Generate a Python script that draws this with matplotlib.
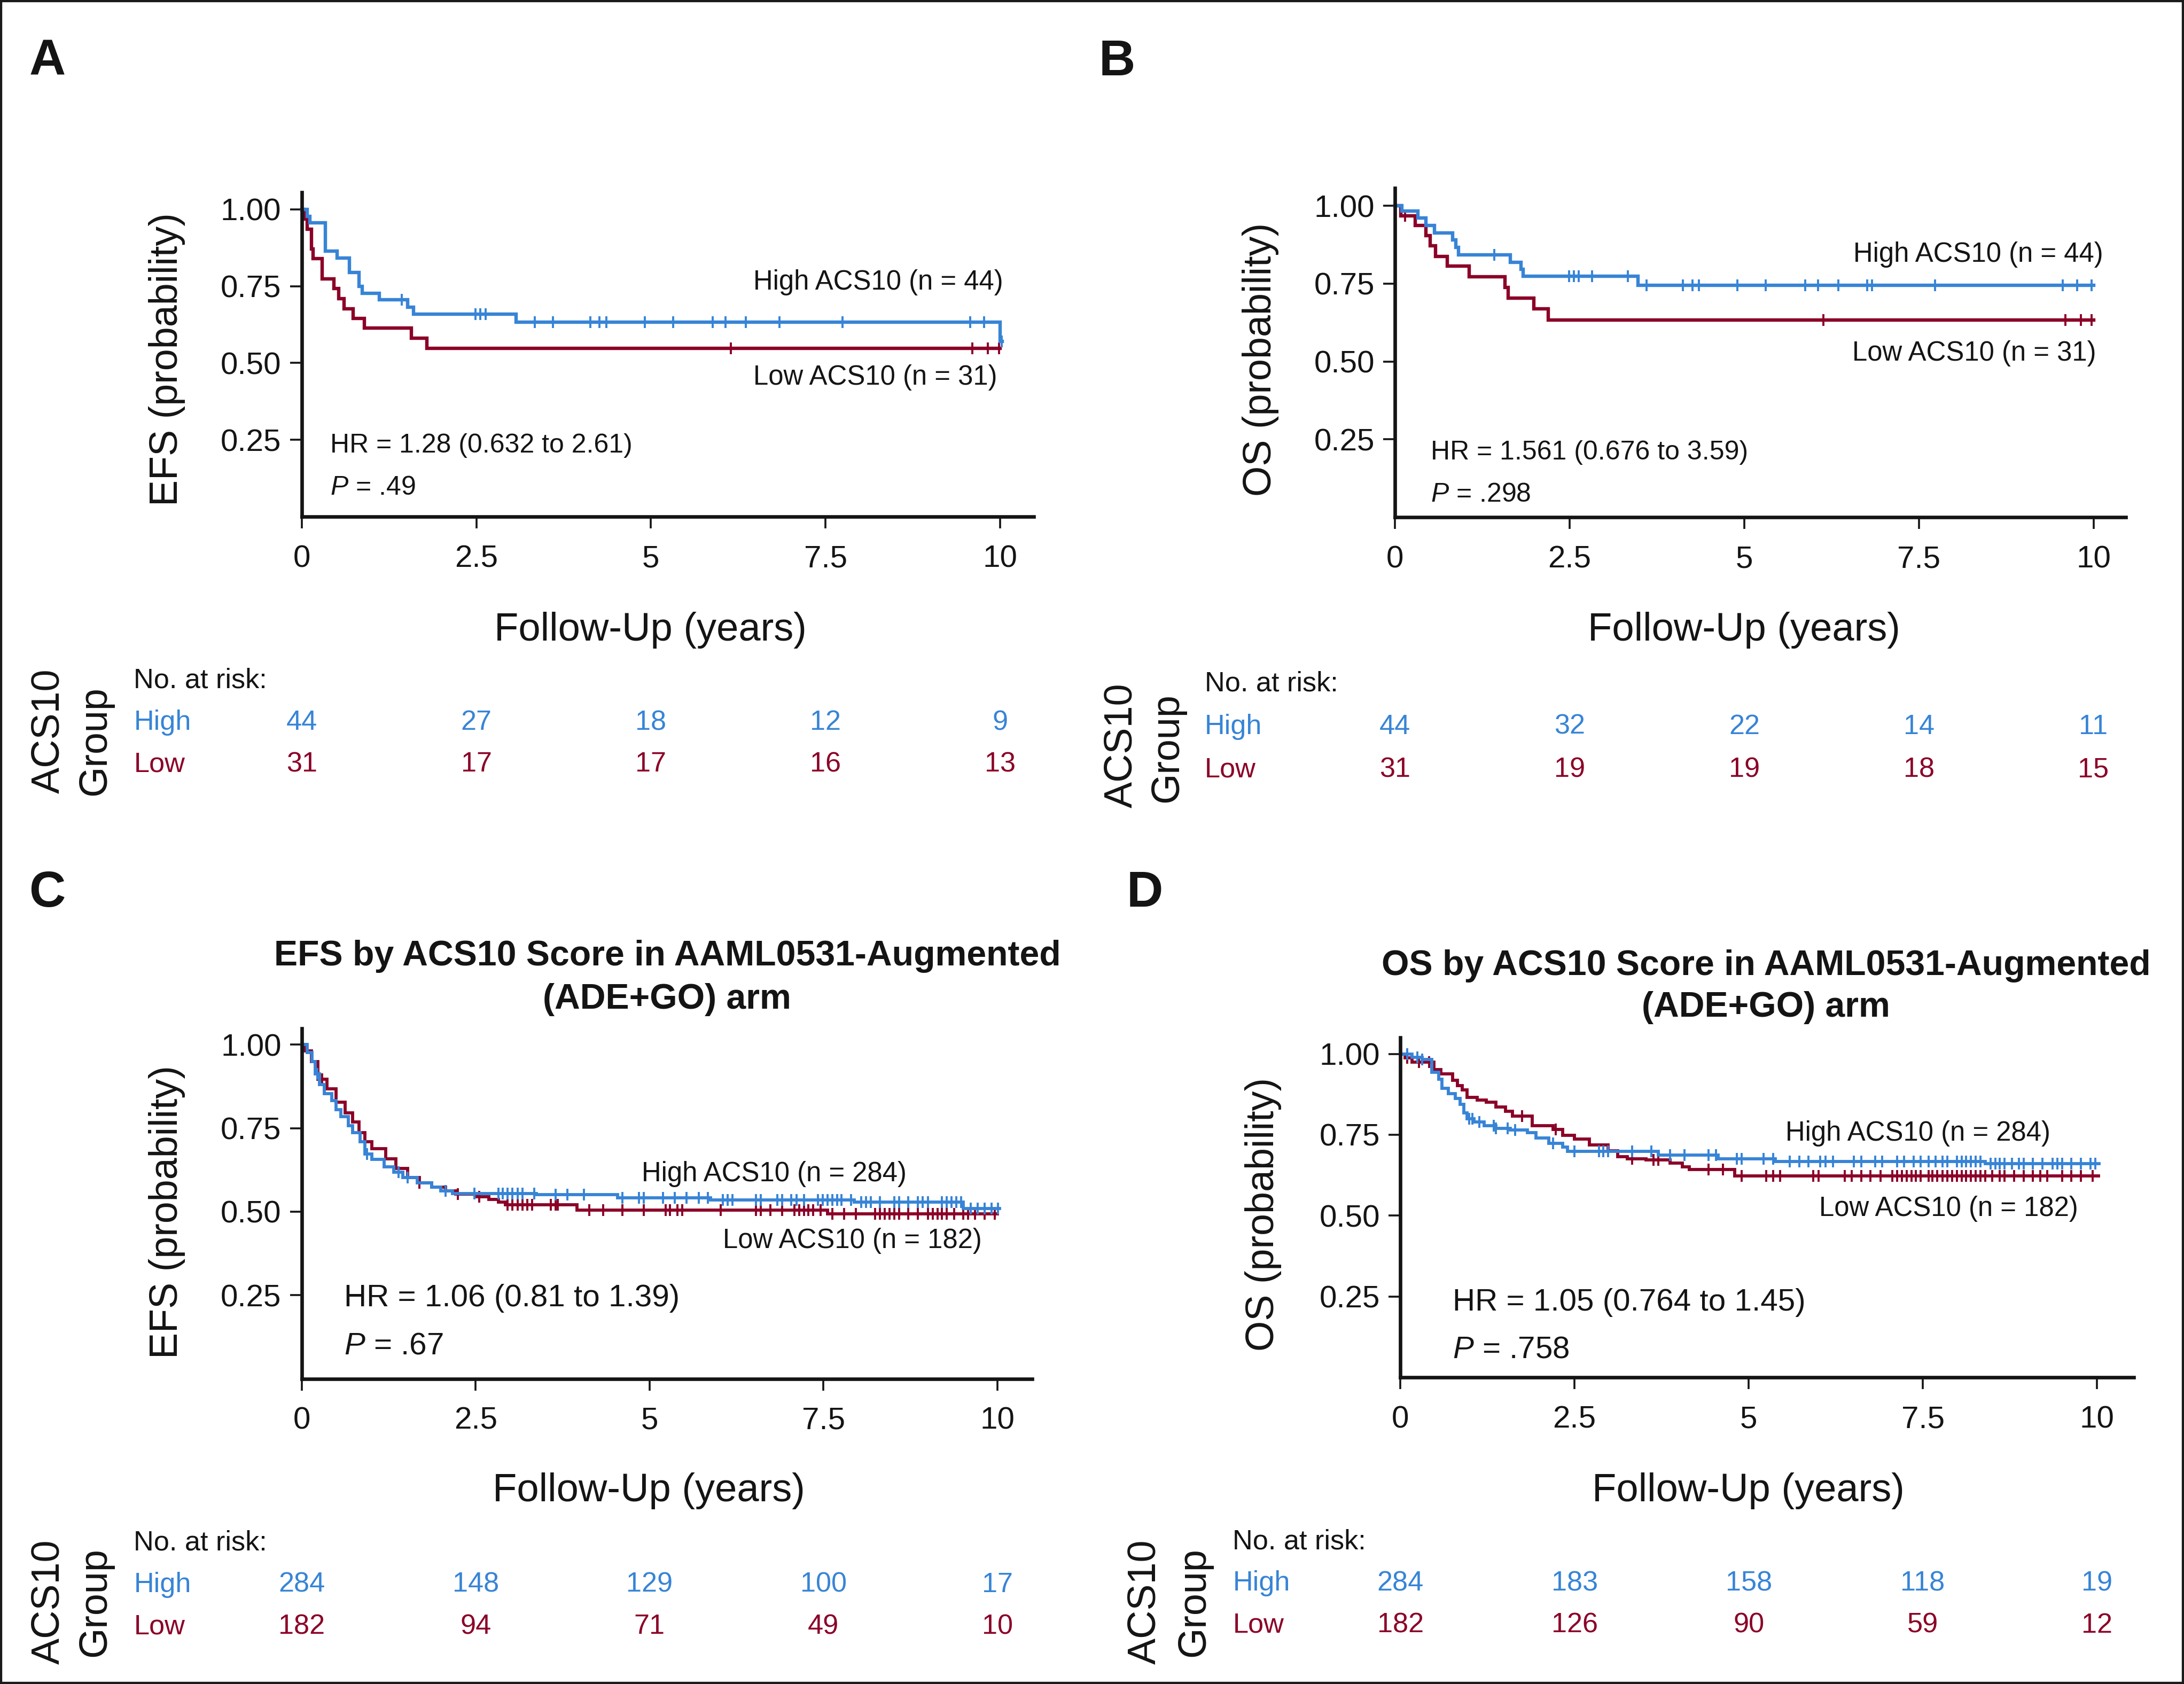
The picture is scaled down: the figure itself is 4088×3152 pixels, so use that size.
import numpy as np
import matplotlib
matplotlib.use('Agg')
import matplotlib.pyplot as plt
from matplotlib.patches import Rectangle
from matplotlib.transforms import blended_transform_factory

plt.rcParams['font.family'] = ['Liberation Sans', 'DejaVu Sans']
plt.rcParams['mathtext.fontset'] = 'custom'
plt.rcParams['mathtext.it'] = 'Liberation Sans:italic'
plt.rcParams['mathtext.rm'] = 'Liberation Sans'

BLUE = '#3784D6'
RED = '#8B0027'
INK = '#141414'

# ---------------- data ----------------
xticks = [0, 2.5, 5, 7.5, 10]
xtick_labels = ['0', '2.5', '5', '7.5', '10']
yticks = [0.25, 0.50, 0.75, 1.00]
ytick_labels = ['0.25', '0.50', '0.75', '1.00']
risk_times = [0, 2.5, 5, 7.5, 10]

# Panel A (EFS, small cohort)
a_high_t = [0, 0.08, 0.12, 0.34, 0.51, 0.68, 0.82, 0.87, 1.11, 1.52, 1.60, 3.07, 10.0]
a_high_s = [1.0, 0.977, 0.955, 0.864, 0.841, 0.795, 0.750, 0.727, 0.705, 0.682, 0.659, 0.633, 0.570]
a_high_end = 10.03
a_high_cens = [1.43, 2.49, 2.56, 2.63, 3.34, 3.60, 4.13, 4.26, 4.36, 4.91, 5.32, 5.88,
               6.07, 6.36, 6.84, 7.74, 9.57, 9.77, 10.02]
a_low_t = [0, 0.03, 0.08, 0.14, 0.16, 0.29, 0.46, 0.53, 0.61, 0.74, 0.90, 1.57, 1.79]
a_low_s = [1.0, 0.968, 0.935, 0.871, 0.839, 0.774, 0.742, 0.710, 0.677, 0.645, 0.613, 0.581, 0.548]
a_low_end = 10.0
a_low_cens = [6.14, 9.60, 9.82, 9.98]
a_risk_high = [44, 27, 18, 12, 9]
a_risk_low = [31, 17, 17, 16, 13]

# Panel B (OS, small cohort)
b_high_t = [0, 0.10, 0.33, 0.44, 0.56, 0.82, 0.87, 0.91, 1.65, 1.80, 1.83, 3.48]
b_high_s = [1.0, 0.983, 0.960, 0.937, 0.913, 0.890, 0.866, 0.842, 0.819, 0.796, 0.774, 0.745]
b_high_end = 10.0
b_high_cens = [1.42, 2.49, 2.56, 2.63, 2.82, 3.33, 3.60, 4.12, 4.26, 4.35, 4.90, 5.31,
               5.87, 6.06, 6.35, 6.76, 6.83, 7.73, 9.56, 9.77, 9.97]
b_low_t = [0, 0.08, 0.29, 0.44, 0.50, 0.58, 0.75, 1.06, 1.57, 1.62, 1.99, 2.19]
b_low_s = [1.0, 0.968, 0.936, 0.904, 0.871, 0.838, 0.806, 0.772, 0.738, 0.703, 0.669, 0.634]
b_low_end = 10.0
b_low_cens = [0.14, 6.13, 9.60, 9.82, 9.97]
b_risk_high = [44, 32, 22, 14, 11]
b_risk_low = [31, 19, 19, 18, 15]

# Panel C (EFS, augmented arm)
c_high_t = [0, 0.08, 0.15, 0.19, 0.25, 0.32, 0.43, 0.49, 0.56, 0.67, 0.73, 0.84, 0.91, 1.01,
            1.18, 1.32, 1.45, 1.66, 1.87, 2.00, 2.17, 3.37, 4.54, 5.88, 7.94, 9.51]
c_high_s = [1.0, 0.976, 0.949, 0.912, 0.880, 0.853, 0.832, 0.805, 0.784, 0.757, 0.736, 0.709,
            0.672, 0.656, 0.635, 0.619, 0.603, 0.587, 0.574, 0.563, 0.555, 0.551, 0.542, 0.535,
            0.528, 0.510]
c_high_end = 10.03
c_high_cens = [0.22, 0.94, 1.39, 1.52, 2.07, 2.48, 2.83, 2.89, 2.96, 3.03, 3.10, 3.17, 3.34,
               3.65, 3.82, 4.06, 4.61, 4.85, 4.92, 5.19, 5.36, 5.53, 5.71, 5.84, 6.05, 6.12,
               6.19, 6.53, 6.60, 6.84, 6.91, 7.04, 7.11, 7.22, 7.42, 7.49, 7.56, 7.63, 7.70,
               7.76, 7.90, 8.04, 8.11, 8.18, 8.31, 8.52, 8.59, 8.72, 8.86, 8.93, 9.00, 9.20,
               9.27, 9.34, 9.41, 9.48, 9.62, 9.72, 9.82, 9.92, 10.01]
c_low_t = [0, 0.05, 0.14, 0.23, 0.36, 0.49, 0.62, 0.73, 0.82, 0.91, 1.01, 1.21, 1.35, 1.52,
           1.69, 1.87, 2.07, 2.21, 2.52, 2.69, 2.83, 2.93, 3.96, 7.56]
c_low_s = [1.0, 0.981, 0.949, 0.896, 0.867, 0.827, 0.795, 0.768, 0.736, 0.709, 0.688, 0.659,
           0.630, 0.603, 0.587, 0.574, 0.563, 0.552, 0.544, 0.536, 0.528, 0.520, 0.504, 0.494]
c_low_end = 10.0
c_low_cens = [0.29, 1.69, 2.24, 2.55, 2.96, 3.03, 3.10, 3.17, 3.24, 3.31, 3.58, 3.65, 3.68,
              4.13, 4.33, 4.61, 4.92, 5.23, 5.29, 5.40, 5.47, 6.02, 6.53, 6.60, 6.74, 6.91,
              7.08, 7.15, 7.22, 7.28, 7.35, 7.46, 7.63, 7.80, 7.97, 8.24, 8.31, 8.38, 8.45,
              8.52, 8.59, 8.72, 8.86, 9.00, 9.07, 9.14, 9.20, 9.27, 9.38, 9.51, 9.58, 9.68,
              9.82, 9.96]
c_risk_high = [284, 148, 129, 100, 17]
c_risk_low = [182, 94, 71, 49, 10]

# Panel D (OS, augmented arm)
d_high_t = [0, 0.17, 0.31, 0.45, 0.55, 0.60, 0.69, 0.79, 0.86, 0.91, 0.96, 1.06, 1.20, 1.37,
            1.58, 1.82, 1.95, 2.13, 2.33, 2.40, 3.70, 4.56, 5.38, 8.40]
d_high_s = [1.0, 0.990, 0.982, 0.943, 0.921, 0.894, 0.877, 0.863, 0.844, 0.817, 0.800, 0.789,
            0.778, 0.770, 0.764, 0.756, 0.740, 0.723, 0.712, 0.698, 0.687, 0.676, 0.668, 0.660]
d_high_end = 10.03
d_high_cens = [0.10, 0.24, 0.31, 0.99, 1.03, 1.13, 1.34, 1.37, 1.54, 1.65, 2.19, 2.50, 2.85,
               2.91, 2.98, 3.33, 3.60, 3.87, 4.08, 4.42, 4.53, 4.83, 4.90, 5.21, 5.35, 5.59,
               5.73, 5.86, 6.03, 6.10, 6.21, 6.51, 6.62, 6.82, 6.92, 7.13, 7.23, 7.37, 7.47,
               7.58, 7.68, 7.78, 7.85, 7.99, 8.06, 8.12, 8.19, 8.26, 8.33, 8.47, 8.54, 8.60,
               8.67, 8.78, 8.88, 8.95, 9.08, 9.22, 9.36, 9.43, 9.50, 9.63, 9.77, 9.91, 9.98]
d_low_t = [0, 0.07, 0.17, 0.48, 0.58, 0.75, 0.82, 0.89, 0.96, 1.10, 1.23, 1.37, 1.51, 1.61,
           1.89, 2.19, 2.33, 2.50, 2.71, 2.98, 3.12, 3.26, 3.53, 3.87, 4.05, 4.15, 4.80]
d_low_s = [1.0, 0.987, 0.974, 0.952, 0.938, 0.918, 0.902, 0.888, 0.866, 0.858, 0.850, 0.836,
           0.822, 0.808, 0.778, 0.767, 0.748, 0.737, 0.718, 0.701, 0.682, 0.676, 0.673, 0.662,
           0.651, 0.643, 0.622]
d_low_end = 10.02
d_low_cens = [0.10, 0.27, 0.41, 1.75, 2.23, 3.33, 3.63, 3.70, 4.42, 4.63, 4.90, 5.25, 5.35,
              5.45, 5.93, 6.00, 6.38, 6.48, 6.62, 6.75, 6.89, 7.06, 7.13, 7.20, 7.27, 7.34,
              7.40, 7.47, 7.58, 7.64, 7.71, 7.78, 7.85, 7.92, 7.99, 8.06, 8.12, 8.19, 8.26,
              8.33, 8.40, 8.50, 8.60, 8.67, 8.81, 8.95, 9.08, 9.19, 9.29, 9.50, 9.63, 9.77,
              9.94]
d_risk_high = [284, 183, 158, 118, 19]
d_risk_low = [182, 126, 90, 59, 12]

panel_letters = ['A', 'B', 'C', 'D']
ylabels = ['EFS (probability)', 'OS (probability)', 'EFS (probability)', 'OS (probability)']
xlabel = 'Follow-Up (years)'
high_labels = ['High ACS10 (n = 44)', 'High ACS10 (n = 44)', 'High ACS10 (n = 284)', 'High ACS10 (n = 284)']
low_labels = ['Low ACS10 (n = 31)', 'Low ACS10 (n = 31)', 'Low ACS10 (n = 182)', 'Low ACS10 (n = 182)']
hr_texts = ['HR = 1.28 (0.632 to 2.61)', 'HR = 1.561 (0.676 to 3.59)',
            'HR = 1.06 (0.81 to 1.39)', 'HR = 1.05 (0.764 to 1.45)']
p_texts = [r'$P$ = .49', r'$P$ = .298', r'$P$ = .67', r'$P$ = .758']
titles = [None, None,
          ['EFS by ACS10 Score in AAML0531-Augmented', '(ADE+GO) arm'],
          ['OS by ACS10 Score in AAML0531-Augmented', '(ADE+GO) arm']]

# ---------------- layout (reference pixel grid 1568 x 1209) ----------------
W, H = 1568.0, 1209.0
def fx(x): return x / W
def fy(y): return 1 - y / H

fig = plt.figure(figsize=(20.44, 15.76), dpi=200)
fig.patch.set_facecolor('white')

geoms = [
    dict(L=216.6, R=742, x10=718.1, y0=371.0, ytop=138, y100=150.2,
         letter=(34, 54), ylab=(120, 258), xlab=(467, 460),
         high=(720, 208), low=(716, 276), hr=(237, 325, 355), hr_fs=18.0,
         risk_lab_x=96, risk_y=(494, 524, 554), grp=(35, 525, 68, 532), title=None),
    dict(L=1001.6, R=1526, x10=1503, y0=371.4, ytop=135, y100=147.7,
         letter=(802, 54), ylab=(905, 258), xlab=(1252, 460),
         high=(1510, 188), low=(1505, 259), hr=(1027, 330, 360), hr_fs=18.0,
         risk_lab_x=865, risk_y=(496, 527, 558), grp=(805, 535, 838, 537), title=None),
    dict(L=216.7, R=741, x10=716, y0=989.8, ytop=738.5, y100=750,
         letter=(34, 651), ylab=(120, 870), xlab=(466, 1078),
         high=(651, 848), low=(705, 896), hr=(247, 938, 972), hr_fs=21.0,
         risk_lab_x=96, risk_y=(1113, 1143, 1173), grp=(35, 1150, 68, 1150),
         title=(479, 693, 724)),
    dict(L=1005.4, R=1532, x10=1505.5, y0=988.9, ytop=745, y100=756.6,
         letter=(822, 651), ylab=(907, 872), xlab=(1255, 1078),
         high=(1472, 819), low=(1492, 873), hr=(1043, 941, 975), hr_fs=21.0,
         risk_lab_x=885, risk_y=(1112, 1142, 1172), grp=(822, 1150, 857, 1150),
         title=(1268, 700, 730)),
]

curves = [
    (a_high_t, a_high_s, a_high_end, a_high_cens, a_low_t, a_low_s, a_low_end, a_low_cens, a_risk_high, a_risk_low, 2.3),
    (b_high_t, b_high_s, b_high_end, b_high_cens, b_low_t, b_low_s, b_low_end, b_low_cens, b_risk_high, b_risk_low, 2.3),
    (c_high_t, c_high_s, c_high_end, c_high_cens, c_low_t, c_low_s, c_low_end, c_low_cens, c_risk_high, c_risk_low, 2.1),
    (d_high_t, d_high_s, d_high_end, d_high_cens, d_low_t, d_low_s, d_low_end, d_low_cens, d_risk_high, d_risk_low, 2.1),
]


def make_axes(g):
    L, R, x10, y0, ytop, y100 = g['L'], g['R'], g['x10'], g['y0'], g['ytop'], g['y100']
    ax = fig.add_axes([fx(L), fy(y0), (R - L) / W, (y0 - ytop) / H])
    ax.set_xlim(0, 10 * (R - L) / (x10 - L))
    ax.set_ylim(0, (y0 - ytop) / (y0 - y100))
    for s in ['top', 'right']:
        ax.spines[s].set_visible(False)
    for s in ['left', 'bottom']:
        ax.spines[s].set_linewidth(2.4)
        ax.spines[s].set_color(INK)
        ax.spines[s].set_capstyle('projecting')
    ax.set_xticks(xticks)
    ax.set_xticklabels(xtick_labels)
    ax.set_yticks(yticks)
    ax.set_yticklabels(ytick_labels)
    ax.tick_params(axis='both', direction='out', length=7.8, width=1.3, color=INK,
                   labelsize=21, labelcolor=INK)
    ax.tick_params(axis='x', pad=11)
    ax.tick_params(axis='y', pad=6)
    ax.patch.set_alpha(0)
    return ax


def km(ax, t, s, end, cens, color, lw):
    tt = np.append(np.asarray(t, float), end)
    ss = np.append(np.asarray(s, float), s[-1])
    ax.step(tt, ss, where='post', color=color, lw=lw, solid_joinstyle='miter', clip_on=False)
    idx = np.searchsorted(np.asarray(t), np.asarray(cens), side='right') - 1
    ax.plot(cens, np.asarray(s)[idx], ls='none', marker='|', ms=8, mew=1.4,
            color=color, clip_on=False)


for i, g in enumerate(geoms):
    ax = make_axes(g)
    (ht, hs, he, hc, lt, ls_, le, lc, rh, rl, lw) = curves[i]
    km(ax, lt, ls_, le, lc, RED, lw)
    km(ax, ht, hs, he, hc, BLUE, lw)

    # panel letter
    fig.text(fx(g['letter'][0]), fy(g['letter'][1]), panel_letters[i], ha='center',
             va='baseline', fontsize=34, fontweight='bold', color=INK)
    # axis labels
    fig.text(fx(g['ylab'][0]), fy(g['ylab'][1]), ylabels[i], rotation=90, ha='center',
             va='center', fontsize=26.5, color=INK)
    fig.text(fx(g['xlab'][0]), fy(g['xlab'][1]), xlabel, ha='center', va='baseline',
             fontsize=26.7, color=INK)
    # curve labels
    fig.text(fx(g['high'][0]), fy(g['high'][1]), high_labels[i], ha='right', va='baseline',
             fontsize=18.3, color=INK)
    fig.text(fx(g['low'][0]), fy(g['low'][1]), low_labels[i], ha='right', va='baseline',
             fontsize=18.3, color=INK)
    # HR and P
    fig.text(fx(g['hr'][0]), fy(g['hr'][1]), hr_texts[i], ha='left', va='baseline',
             fontsize=g['hr_fs'], color=INK)
    fig.text(fx(g['hr'][0]), fy(g['hr'][2]), p_texts[i], ha='left', va='baseline',
             fontsize=g['hr_fs'], color=INK)
    # title
    if titles[i] is not None:
        tx, ty1, ty2 = g['title']
        fig.text(fx(tx), fy(ty1), titles[i][0], ha='center', va='baseline',
                 fontsize=23.8, fontweight='bold', color=INK)
        fig.text(fx(tx), fy(ty2), titles[i][1], ha='center', va='baseline',
                 fontsize=23.8, fontweight='bold', color=INK)
    # risk table
    ry = g['risk_y']
    fig.text(fx(g['risk_lab_x']), fy(ry[0]), 'No. at risk:', ha='left', va='baseline',
             fontsize=18.8, color=INK)
    fig.text(fx(g['risk_lab_x']), fy(ry[1]), 'High', ha='left', va='baseline',
             fontsize=18.8, color=BLUE)
    fig.text(fx(g['risk_lab_x']), fy(ry[2]), 'Low', ha='left', va='baseline',
             fontsize=18.8, color=RED)
    tr = blended_transform_factory(ax.transData, fig.transFigure)
    for tx_, nh, nl in zip(risk_times, rh, rl):
        ax.text(tx_, fy(ry[1]), str(nh), transform=tr, ha='center', va='baseline',
                fontsize=18.8, color=BLUE, clip_on=False)
        ax.text(tx_, fy(ry[2]), str(nl), transform=tr, ha='center', va='baseline',
                fontsize=18.8, color=RED, clip_on=False)
    # group label
    gx1, gy1, gx2, gy2 = g['grp']
    fig.text(fx(gx1), fy(gy1), 'ACS10', rotation=90, ha='center', va='center',
             fontsize=26.5, fontweight='medium', color=INK)
    fig.text(fx(gx2), fy(gy2), 'Group', rotation=90, ha='center', va='center',
             fontsize=26.5, fontweight='medium', color=INK)

fig.add_artist(Rectangle((0, 0), 1, 1, transform=fig.transFigure, fill=False,
                         lw=3, ec='#1a1a1a'))

fig.savefig('out.png', dpi=200, facecolor='white')
